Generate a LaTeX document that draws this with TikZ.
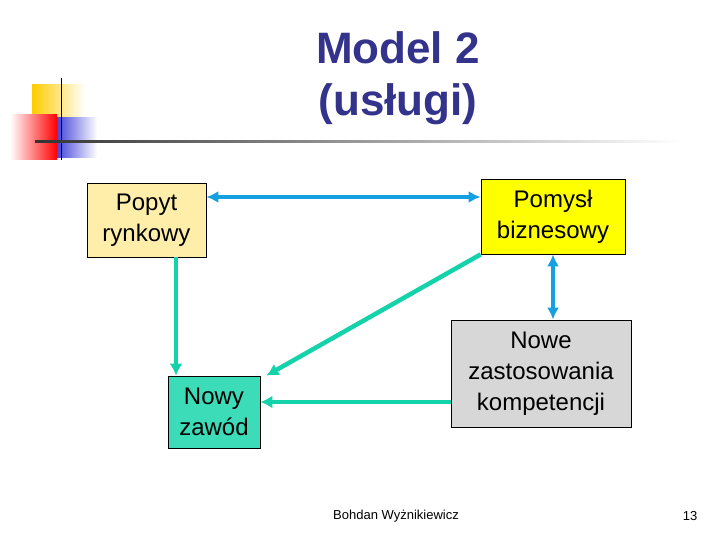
\documentclass[tikz,border=0pt]{standalone}
\usepackage{fontspec}
\setmainfont{Liberation Sans}
\usetikzlibrary{positioning}
\definecolor{titleblue}{RGB}{51,51,140}
\definecolor{arrblue}{RGB}{20,160,225}
\definecolor{arrteal}{RGB}{20,210,170}
\definecolor{boxcream}{RGB}{255,238,170}
\definecolor{boxyellow}{RGB}{255,255,0}
\definecolor{boxgray}{RGB}{215,215,215}
\definecolor{boxteal}{RGB}{60,220,185}
\definecolor{logoyellow}{RGB}{255,204,0}
\tikzset{
  box/.style={draw, thick, align=center, inner sep=1pt, font=\fontsize{24}{31}\selectfont},
  blu/.style={draw=arrblue, line width=3.5pt, {Latex[length=12pt,width=12pt]}-{Latex[length=12pt,width=12pt]}},
  tea/.style={draw=arrteal, line width=4.5pt, -{Latex[length=12pt,width=13pt]}}
}
\usetikzlibrary{arrows.meta}
\begin{document}
\begin{tikzpicture}[x=1pt,y=-1pt]
    \useasboundingbox (0,0) rectangle (720,540);
    % logo
    \shade [left color=logoyellow, right color=white] (32,85) rectangle (85,138);
    \shade [left color=blue!80!black, right color=white] (42,118) rectangle (97,158);
    \shade [left color=white, right color=red] (10,115) rectangle (57,160);
    \draw [black, thick] (61,78) -- (61,160);
    \shade [left color=black!80, right color=white] (35,141) rectangle (680,143);
    \node [font=\fontsize{44}{52}\selectfont\bfseries, text=titleblue, align=center] (title) at (398,78) {Model 2\\(usługi)};

    \node [box, fill=boxcream, minimum width=119, minimum height=74] (popyt) at (146.5,220) {Popyt\\rynkowy};
    \node [box, fill=boxyellow, minimum width=144, minimum height=75] (pomysl) at (553,216.5) {Pomysł\\biznesowy};
    \node [box, fill=boxgray, minimum width=180, minimum height=107] (nowe) at (541,373.5) {Nowe\\zastosowania\\kompetencji};
    \node [box, fill=boxteal, minimum width=92, minimum height=72] (zawod) at (214,412) {Nowy\\zawód};

    \draw [blu] (popyt.east |- 0,197) -- (pomysl.west |- 0,197);
    \draw [blu] (pomysl.south) -- (nowe.north -| pomysl.south);
    \draw [tea] (popyt.south -| 176,0) -- (zawod.north -| 176,0);
    \draw [tea] (pomysl.south west) -- ([xshift=6]zawod.north east);
    \draw [tea] (nowe.west |- 0,402) -- (zawod.east |- 0,402);

    \node [font=\fontsize{13}{15}\selectfont] (autor) at (396,516) {Bohdan Wyżnikiewicz};
    \node [font=\fontsize{13}{15}\selectfont] (nr) at (690,516) {13};
\end{tikzpicture}
\end{document}
